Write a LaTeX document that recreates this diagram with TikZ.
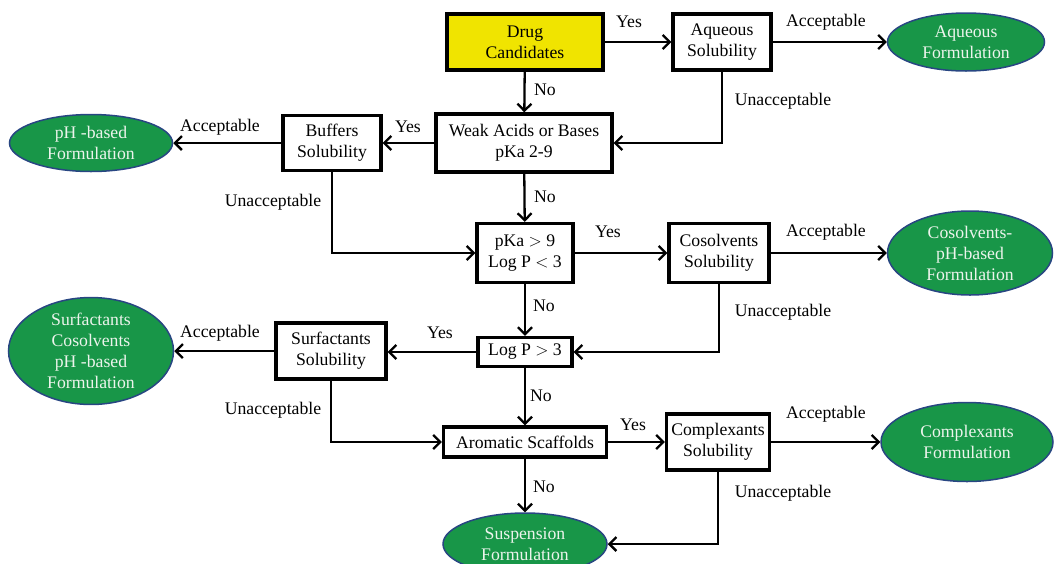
\documentclass[tikz,border=0pt]{standalone}
\usepackage{fontspec}
\setmainfont{Liberation Serif}
\usetikzlibrary{arrows.meta,shapes.geometric}
\definecolor{formgreen}{RGB}{24,150,72}
\definecolor{formedge}{RGB}{40,70,130}
\definecolor{formtext}{RGB}{236,244,236}
\definecolor{drugyellow}{RGB}{240,228,0}
\begin{document}
\begin{tikzpicture}[x=1pt,y=-1pt,
  every node/.style={font=\fontsize{17.7}{21}\selectfont, align=center, inner sep=0pt},
  stepbox/.style={draw, line width=3.3pt, fill=white},
  form/.style={ellipse, draw=formedge, line width=1.5pt, fill=formgreen, text=formtext},
  arr/.style={line width=2.3pt, -{Straight Barb[length=7pt,width=14pt,line width=2.3pt]}},
  lbl/.style={}]
\useasboundingbox (0,0) rectangle (1054,563);

% decision and test boxes
\node[stepbox, fill=drugyellow, minimum width=156pt, minimum height=56pt] (drug) at (525,42) {Drug\\Candidates};
\node[stepbox, minimum width=98pt, minimum height=56pt] (aq) at (722,42) {Aqueous\\Solubility};
\node[stepbox, minimum width=176pt, minimum height=58pt] (weak) at (524,143) {Weak Acids or Bases\\pKa 2-9};
\node[stepbox, minimum width=98pt, minimum height=55pt] (buf) at (332,143) {Buffers\\Solubility};
\node[stepbox, minimum width=96pt, minimum height=59pt] (pka) at (525,253) {pKa $>$ 9\\Log P $<$ 3};
\node[stepbox, minimum width=100pt, minimum height=59pt] (cos) at (719,253) {Cosolvents\\Solubility};
\node[stepbox, minimum width=94pt, minimum height=29pt] (logp) at (525,352) {Log P $>$ 3};
\node[stepbox, minimum width=110pt, minimum height=56pt] (surf) at (331,351) {Surfactants\\Solubility};
\node[stepbox, minimum width=163pt, minimum height=30pt] (arom) at (525,442) {Aromatic Scaffolds};
\node[stepbox, minimum width=103pt, minimum height=56pt] (comp) at (718,442) {Complexants\\Solubility};

% formulation outcomes
\node[form, minimum width=157pt, minimum height=58pt] (aqf) at (966,42) {Aqueous\\Formulation};
\node[form, minimum width=163pt, minimum height=57pt] (phf) at (91,143) {pH -based\\Formulation};
\node[form, minimum width=165pt, minimum height=84pt] (cosf) at (970,253) {Cosolvents-\\pH-based\\Formulation};
\node[form, minimum width=165pt, minimum height=92pt] (surff) at (91,351) {Surfactants\\Cosolvents\\pH -based\\Formulation};
\node[form, minimum width=172pt, minimum height=79pt] (compf) at (967,442) {Complexants\\Formulation};
\node[form, minimum width=164pt, minimum height=62pt] (susp) at (525,544) {Suspension\\Formulation};

% connectors
\draw[arr] (drug) -- (aq);
\draw[arr] (aq) -- (aqf);
\draw[arr] (drug) -- (weak);
\draw[arr] (aq.south) |- (weak.east);
\draw[arr] (weak) -- (buf);
\draw[arr] (buf) -- (phf);
\draw[arr] (buf.south) |- (pka.west);
\draw[arr] (weak) -- (pka);
\draw[arr] (pka) -- (cos);
\draw[arr] (cos) -- (cosf);
\draw[arr] (cos.south) |- (logp.east);
\draw[arr] (pka) -- (logp);
\draw[arr] (logp.west) -- (surf.east |- logp.west);
\draw[arr] (surf.west) -- (surff.east);
\draw[arr] (surf.south) |- (arom.west);
\draw[arr] (logp) -- (arom);
\draw[arr] (arom) -- (comp);
\draw[arr] (comp) -- (compf);
\draw[arr] (arom) -- (susp);
\draw[arr] (comp.south) |- (susp.east);

% branch labels
\node[lbl] (l1) at (629,22) {Yes};
\node[lbl] (l2) at (826,22) {Acceptable};
\node[lbl] (l3) at (545,90) {No};
\node[lbl] (l4) at (783,101) {Unacceptable};
\node[lbl] (l5) at (408,127) {Yes};
\node[lbl] (l6) at (220,127) {Acceptable};
\node[lbl] (l7) at (273,202) {Unacceptable};
\node[lbl] (l8) at (545,197) {No};
\node[lbl] (l9) at (608,232) {Yes};
\node[lbl] (l10) at (826,232) {Acceptable};
\node[lbl] (l11) at (783,312) {Unacceptable};
\node[lbl] (l12) at (544,306) {No};
\node[lbl] (l13) at (440,333) {Yes};
\node[lbl] (l14) at (220,333) {Acceptable};
\node[lbl] (l15) at (273,410) {Unacceptable};
\node[lbl] (l16) at (541,396) {No};
\node[lbl] (l17) at (633,425) {Yes};
\node[lbl] (l18) at (826,414) {Acceptable};
\node[lbl] (l19) at (544,487) {No};
\node[lbl] (l20) at (783,493) {Unacceptable};
\end{tikzpicture}
\end{document}
